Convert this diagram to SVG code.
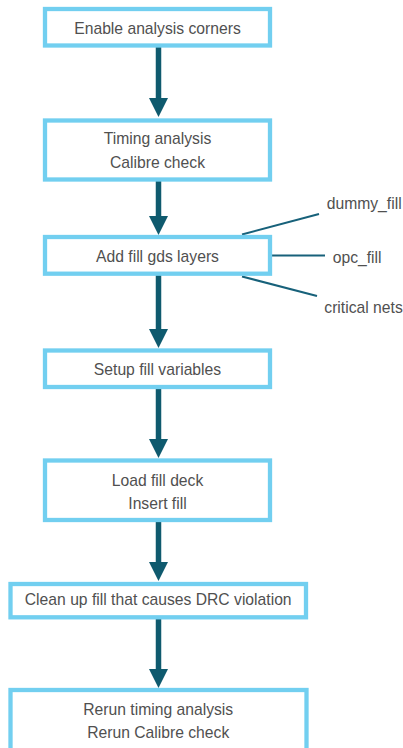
<svg xmlns="http://www.w3.org/2000/svg" width="403" height="748" viewBox="0 0 403 748">
<defs>
<style>
.box{fill:#ffffff;stroke:#72cff0;stroke-width:4.3}
.t{font-family:"Liberation Sans",Arial,sans-serif;font-size:15.7px;fill:#505050;text-anchor:middle}
.lbl{font-family:"Liberation Sans",Arial,sans-serif;font-size:15.7px;fill:#505050}
.shaft{stroke:#0f5a6e;stroke-width:5.5;fill:none}
.head{fill:#0f5a6e}
.ann{stroke:#17617a;stroke-width:2;fill:none}
</style>
</defs>
<rect width="403" height="748" fill="#ffffff"/>
<g id="connectors">
<line class="shaft" x1="158.5" y1="47" x2="158.5" y2="99"/>
<polygon class="head" points="149,98 168,98 158.5,117"/>
<line class="shaft" x1="158.5" y1="181" x2="158.5" y2="217"/>
<polygon class="head" points="149,216 168,216 158.5,235"/>
<line class="shaft" x1="158.5" y1="275" x2="158.5" y2="330"/>
<polygon class="head" points="149,329 168,329 158.5,348"/>
<line class="shaft" x1="158.5" y1="388" x2="158.5" y2="440"/>
<polygon class="head" points="149,439 168,439 158.5,458"/>
<line class="shaft" x1="158.5" y1="521" x2="158.5" y2="563"/>
<polygon class="head" points="149,562 168,562 158.5,581"/>
<line class="shaft" x1="158.5" y1="618" x2="158.5" y2="670"/>
<polygon class="head" points="149,669 168,669 158.5,688"/>
<line class="ann" x1="242" y1="234.5" x2="319" y2="214"/>
<line class="ann" x1="272" y1="255.5" x2="325" y2="255.5"/>
<line class="ann" x1="242" y1="276.5" x2="317" y2="296"/>
</g>
<g id="n1">
<rect class="box" x="45" y="9" width="225" height="36.5"/>
<text class="t" x="157.5" y="34">Enable analysis corners</text>
</g>
<g id="n2">
<rect class="box" x="45" y="120.5" width="225" height="59"/>
<text class="t" x="157.5" y="144.3">Timing analysis</text>
<text class="t" x="157.5" y="168.3">Calibre check</text>
</g>
<g id="n3">
<rect class="box" x="45" y="237" width="225" height="36.7"/>
<text class="t" x="157.5" y="262.3">Add fill gds layers</text>
</g>
<g id="dummy_fill"><text class="lbl" x="326.7" y="209.3">dummy_fill</text></g>
<g id="opc_fill"><text class="lbl" x="332.7" y="262.7">opc_fill</text></g>
<g id="critical_nets"><text class="lbl" x="324.3" y="313.3">critical nets</text></g>
<g id="n4">
<rect class="box" x="45" y="350.5" width="225" height="36.5"/>
<text class="t" x="157.5" y="375">Setup fill variables</text>
</g>
<g id="n5">
<rect class="box" x="45" y="460.5" width="225" height="59.5"/>
<text class="t" x="157.5" y="485.7">Load fill deck</text>
<text class="t" x="157.5" y="509">Insert fill</text>
</g>
<g id="n6">
<rect class="box" x="10.5" y="584" width="295.5" height="33.3"/>
<text class="t" x="158.2" y="605">Clean up fill that causes DRC violation</text>
</g>
<g id="n7">
<rect class="box" x="10.5" y="690" width="296" height="80"/>
<text class="t" x="158.2" y="715">Rerun timing analysis</text>
<text class="t" x="158.2" y="738.3">Rerun Calibre check</text>
</g>
</svg>
